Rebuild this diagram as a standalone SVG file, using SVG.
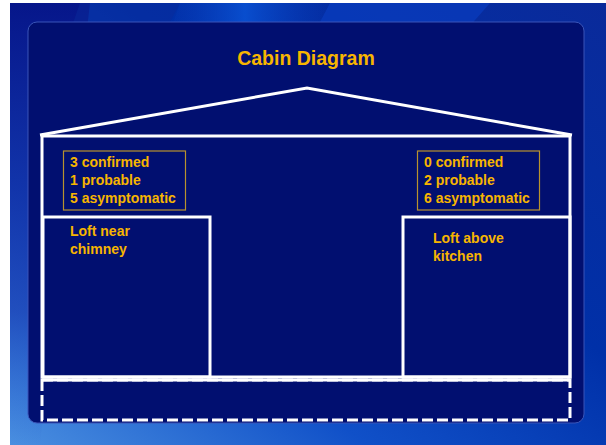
<svg xmlns="http://www.w3.org/2000/svg" width="606" height="445" viewBox="0 0 606 445">
<defs>
<linearGradient id="bg" x1="0" y1="1" x2="1" y2="0">
<stop offset="0" stop-color="#4a8fe0"/>
<stop offset="0.3" stop-color="#1050c8"/>
<stop offset="0.6" stop-color="#0030a8"/>
<stop offset="1" stop-color="#0a2a9a"/>
</linearGradient>
<linearGradient id="streak" x1="0" y1="0" x2="1" y2="0">
<stop offset="0" stop-color="#0a3fc0" stop-opacity="0"/>
<stop offset="0.5" stop-color="#0a55d8" stop-opacity="0.8"/>
<stop offset="1" stop-color="#0a3fc0" stop-opacity="0"/>
</linearGradient>
<linearGradient id="dark" x1="0" y1="0" x2="0" y2="1">
<stop offset="0" stop-color="#06168a"/>
<stop offset="0.7" stop-color="#1a3ab0" stop-opacity="0.6"/>
<stop offset="1" stop-color="#2a60d0" stop-opacity="0"/>
</linearGradient>
<style>
.wall{fill:none;stroke:#ffffff;stroke-width:3}
.dash{fill:none;stroke:#ffffff;stroke-width:3;stroke-dasharray:11 4}
.box{fill:none;stroke:#b8922e;stroke-width:1.2}
.t{font-family:"Liberation Sans",Arial,sans-serif;font-weight:bold;font-size:14px;fill:#f7b500}
.title{font-family:"Liberation Sans",Arial,sans-serif;font-weight:bold;font-size:19.5px;fill:#f7b500}
</style>
</defs>
<rect x="0" y="0" width="606" height="445" fill="#ffffff"/>
<rect x="10" y="3" width="596" height="442" fill="url(#bg)"/>
<polygon points="10,3 90,3 40,445 10,445" fill="url(#dark)"/>
<polygon points="80,3 180,3 150,60 60,60" fill="#0a2a9a" opacity="0.5"/>
<polygon points="180,3 330,3 300,60 160,60" fill="url(#streak)"/>
<polygon points="330,3 490,3 440,60 300,60" fill="#0a40c4" opacity="0.6"/>
<rect x="28" y="22" width="556" height="401" rx="9" fill="#010f70" stroke="#3a55b8" stroke-width="1"/>
<text class="title" x="306" y="65" text-anchor="middle">Cabin Diagram</text>
<g id="house">
<polyline class="wall" points="40,135 307,88 572,135"/>
<rect class="wall" x="42" y="136" width="528" height="241"/>
</g>
<g id="crawlspace">
<rect class="dash" x="42" y="380" width="528" height="40"/>
<line class="wall" x1="42" y1="380" x2="570" y2="380"/>
</g>
<g id="loft-left">
<rect class="wall" x="43" y="217" width="167" height="160"/>
<text class="t" x="70" y="236">Loft near</text>
<text class="t" x="70" y="253.5">chimney</text>
</g>
<g id="loft-right">
<rect class="wall" x="403" y="217" width="167" height="160"/>
<text class="t" x="433" y="243">Loft above</text>
<text class="t" x="433" y="260.5">kitchen</text>
</g>
<g id="count-left">
<rect class="box" x="63.5" y="151" width="122" height="59"/>
<text class="t" x="70" y="167">3 confirmed</text>
<text class="t" x="70" y="185">1 probable</text>
<text class="t" x="70" y="203">5 asymptomatic</text>
</g>
<g id="count-right">
<rect class="box" x="417.5" y="151" width="122" height="59"/>
<text class="t" x="424" y="167">0 confirmed</text>
<text class="t" x="424" y="185">2 probable</text>
<text class="t" x="424" y="203">6 asymptomatic</text>
</g>
</svg>
